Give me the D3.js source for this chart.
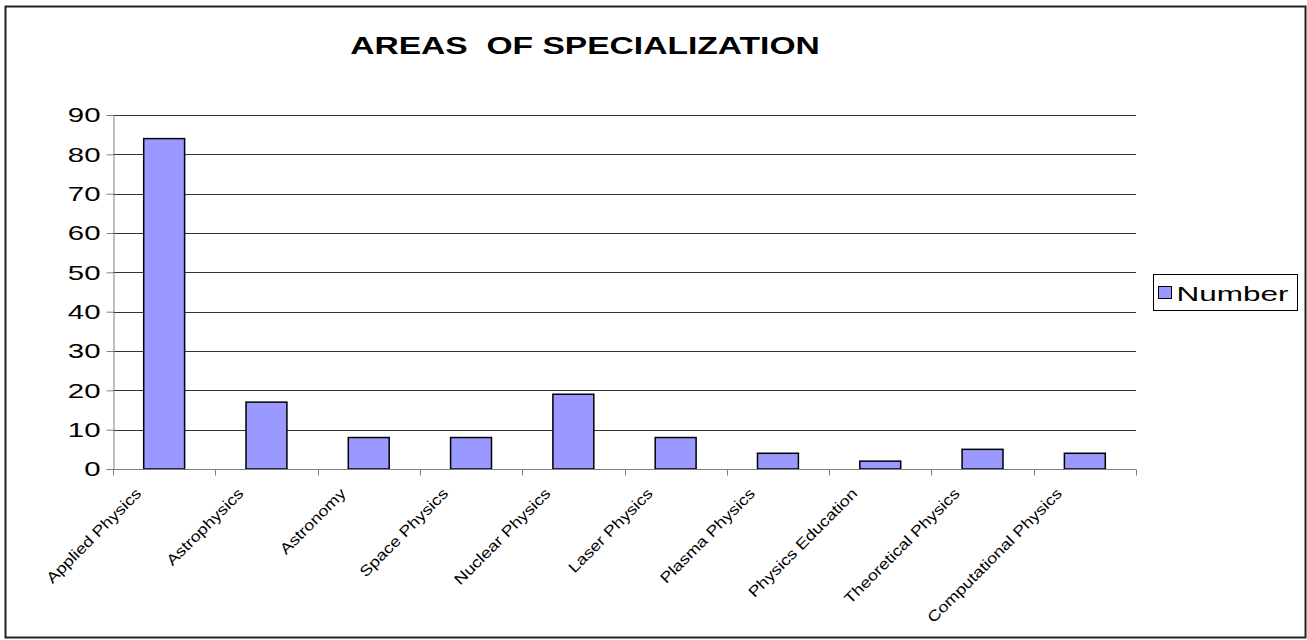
<!DOCTYPE html>
<html>
<head>
<meta charset="utf-8">
<script src="https://cdn.jsdelivr.net/npm/d3@7"></script>
<style>
  html, body { margin: 0; padding: 0; background: #fff; }
  svg { display: block; font-family: Arial, "Liberation Sans", sans-serif; }
</style>
</head>
<body>
<svg id="chart" width="1307" height="640"></svg>
<script>
// Areas of specialization and number of people in each
const categories = [
  "Applied Physics", "Astrophysics", "Astronomy", "Space Physics", "Nuclear Physics",
  "Laser Physics", "Plasma Physics", "Physics Education", "Theoretical Physics", "Computational Physics"
];
const numbers = [84, 17, 8, 8, 19, 8, 4, 2, 5, 4];
const yTicks = [0, 10, 20, 30, 40, 50, 60, 70, 80, 90];
const seriesName = "Number";
const titleText = "AREAS  OF SPECIALIZATION";

const svg = d3.select("#chart");
const W = 1307, H = 640;
const plot = { left: 113, right: 1136, top: 115, bottom: 469 };
const stretch = 1.4;   // glyphs are drawn wider than tall, as in the exported chart

// outer frame
svg.append("rect")
  .attr("x", 5.5).attr("y", 6.5)
  .attr("width", W - 7).attr("height", H - 9)
  .attr("fill", "#fff").attr("stroke", "#222").attr("stroke-width", 2);

// title
svg.append("text")
  .attr("transform", `translate(585,54) scale(${stretch},1)`)
  .attr("text-anchor", "middle")
  .attr("font-size", 24).attr("font-weight", "bold")
  .style("white-space", "pre")
  .text(titleText);

const x = d3.scaleBand()
  .domain(categories)
  .range([plot.left, plot.right])
  .paddingInner(0.6).paddingOuter(0.3);

const y = d3.scaleLinear().domain([0, 90]).range([plot.bottom, plot.top]);

// horizontal gridlines
svg.append("g")
  .selectAll("line")
  .data(yTicks.filter(d => d > 0))
  .join("line")
  .attr("x1", plot.left).attr("x2", plot.right)
  .attr("y1", d => Math.round(y(d)) + 0.5).attr("y2", d => Math.round(y(d)) + 0.5)
  .attr("stroke", "#333").attr("stroke-width", 1);

// bars
svg.append("g")
  .selectAll("rect")
  .data(numbers)
  .join("rect")
  .attr("x", (d, i) => x(categories[i]))
  .attr("y", d => y(d))
  .attr("width", x.bandwidth())
  .attr("height", d => y(0) - y(d))
  .attr("fill", "#9999ff")
  .attr("stroke", "#000").attr("stroke-width", 1.5);

// y axis
const yAxis = d3.axisLeft(y).tickValues(yTicks).tickSize(7).tickPadding(6);
const gy = svg.append("g").attr("transform", `translate(${plot.left + 0.5},0)`).call(yAxis);
gy.select(".domain").attr("stroke", "#808080");
gy.selectAll(".tick line").attr("stroke", "#808080");
gy.selectAll(".tick text")
  .attr("font-size", 21).attr("fill", "#000")
  .attr("font-family", "Arial, 'Liberation Sans', sans-serif")
  .attr("x", -13 / stretch)
  .attr("transform", `scale(${stretch},1)`);

// x axis: tick marks sit on category boundaries
const gx = svg.append("g").attr("transform", `translate(0,${plot.bottom + 0.5})`);
gx.append("line")
  .attr("x1", plot.left).attr("x2", plot.right)
  .attr("stroke", "#808080");
gx.selectAll("line.tick")
  .data(d3.range(categories.length + 1))
  .join("line")
  .attr("class", "tick")
  .attr("x1", i => Math.round(plot.left + i * (plot.right - plot.left) / categories.length) + 0.5)
  .attr("x2", i => Math.round(plot.left + i * (plot.right - plot.left) / categories.length) + 0.5)
  .attr("y1", 0).attr("y2", 6)
  .attr("stroke", "#808080");
// category labels run at 45 degrees, glyphs widened along the baseline
gx.selectAll("text")
  .data(categories)
  .join("text")
  .attr("transform", d => `translate(${x(d) + x.bandwidth() / 2 - 22},25) rotate(-45) scale(1.2,1)`)
  .attr("text-anchor", "end")
  .attr("font-size", 15)
  .text(d => d);

// legend
const lg = svg.append("g").attr("transform", "translate(1153.5,274.5)");
lg.append("rect").attr("width", 144).attr("height", 36)
  .attr("fill", "#fff").attr("stroke", "#000").attr("stroke-width", 1);
lg.append("rect").attr("x", 5).attr("y", 12).attr("width", 13).attr("height", 12)
  .attr("fill", "#9999ff").attr("stroke", "#000").attr("stroke-width", 1);
lg.append("text")
  .attr("transform", `translate(23,26) scale(1.5,1)`)
  .attr("font-size", 21).text(seriesName);
</script>
</body>
</html>
